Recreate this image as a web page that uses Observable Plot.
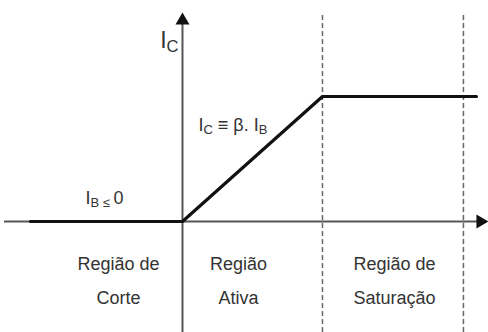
<!DOCTYPE html>
<html>
<head>
<meta charset="utf-8">
<script src="https://cdn.jsdelivr.net/npm/d3@7"></script>
<script src="https://cdn.jsdelivr.net/npm/@observablehq/plot@0.6"></script>
<style>
  html, body { margin: 0; padding: 0; background: #fff; }
  #chart svg { display: block; }
</style>
</head>
<body>
<div id="chart"></div>
<script>
// Transistor output characteristic: I_C versus I_B, in normalized units
// (origin = 0, start of saturation = 1 on both axes).

// Plot window and axis extents
const xDomain = [-1.3, 2.186];
const yDomain = [-0.888, 1.768];
const xAxisExtent = [-1.243, 2.186];
const yAxisExtent = [-0.888, 1.672];

// Characteristic curve: cut-off, active (I_C = β·I_B), saturation
const curveIB = [-1.086, 0, 1, 2.1];
const curveIC = [0, 0, 1, 1];

// Dashed region boundaries
const regionBounds = [1, 2.007];

// Region names (two lines each) and their horizontal centres
const regionCenter = [-0.457, 0.4, 1.514];
const regionLine1 = ["Região de", "Região", "Região de"];
const regionLine2 = ["Corte", "Ativa", "Saturação"];
const regionBaseline = [-0.384, -0.656];

// Annotations ({…} marks a subscript)
const notes = [
  {x: 0.114, y: 0.728, text: "I{C} ≡ β. I{B}"},
  {x: -0.693, y: 0.144, text: "I{B}{ ≤ }0"}
];
const axisLabel = [{x: 0, y: 1.392, text: "I{C}"}];

const curve = curveIB.map((x, i) => ({x, y: curveIC[i]}));
const regionText = regionCenter.flatMap((x, i) => [
  {x, y: regionBaseline[0], text: regionLine1[i]},
  {x, y: regionBaseline[1], text: regionLine2[i]}
]);

const font = "Liberation Sans, Arial, Helvetica, sans-serif";
const axisColor = "#555";

const svg = Plot.plot({
  width: 488,
  height: 332,
  margin: 0,
  style: {background: "#fff", fontFamily: font},
  x: {domain: xDomain, axis: null},
  y: {domain: yDomain, axis: null},
  marks: [
    Plot.ruleX(regionBounds, {y1: yAxisExtent[0], y2: yAxisExtent[1], stroke: "#666", strokeWidth: 1.5, strokeDasharray: "5,3"}),
    Plot.ruleY([0], {x1: xAxisExtent[0], x2: xAxisExtent[1], dx: -4, stroke: axisColor, strokeWidth: 2}),
    Plot.ruleX([0], {y1: yAxisExtent[0], y2: yAxisExtent[1], dy: 4, stroke: axisColor, strokeWidth: 2}),
    Plot.dot([{x: xAxisExtent[1], y: 0}], {x: "x", y: "y", symbol: "triangle", r: 5.2, fill: "#111", stroke: "none", rotate: 90, dx: -8}),
    Plot.dot([{x: 0, y: yAxisExtent[1]}], {x: "x", y: "y", symbol: "triangle", r: 5.2, fill: "#111", stroke: "none", dy: 8}),
    Plot.line(curve, {x: "x", y: "y", stroke: "#111", strokeWidth: 3.2, strokeLinejoin: "miter"}),
    Plot.text(regionText, {x: "x", y: "y", text: "text", fontSize: 18, fill: "#333", textAnchor: "middle", lineAnchor: "bottom", fontFamily: font, style: "letter-spacing:1.2px"}),
    Plot.text(notes, {x: "x", y: "y", text: "text", fontSize: 18, fill: "#333", textAnchor: "start", lineAnchor: "bottom", fontFamily: font}),
    Plot.text(axisLabel, {x: "x", y: "y", text: "text", fontSize: 23, fill: "#333", textAnchor: "end", lineAnchor: "bottom", dx: -4, fontFamily: font})
  ]
});

// Turn {…} segments into subscript tspans
const ns = "http://www.w3.org/2000/svg";
const subScale = 0.72, subShift = 0.3;
svg.querySelectorAll("text").forEach(t => {
  const s = t.textContent;
  if (!s.includes("{")) return;
  t.textContent = "";
  let shifted = false;
  for (const part of s.split(/(\{[^}]*\})/)) {
    if (!part) continue;
    const ts = document.createElementNS(ns, "tspan");
    if (part.startsWith("{")) {
      ts.textContent = part.slice(1, -1);
      ts.setAttribute("font-size", subScale + "em");
      if (!shifted) ts.setAttribute("dy", subShift + "em");
      shifted = true;
    } else {
      ts.textContent = part;
      if (shifted) ts.setAttribute("dy", (-subShift * subScale).toFixed(3) + "em");
      shifted = false;
    }
    t.appendChild(ts);
  }
});

document.getElementById("chart").appendChild(svg);
</script>
</body>
</html>
